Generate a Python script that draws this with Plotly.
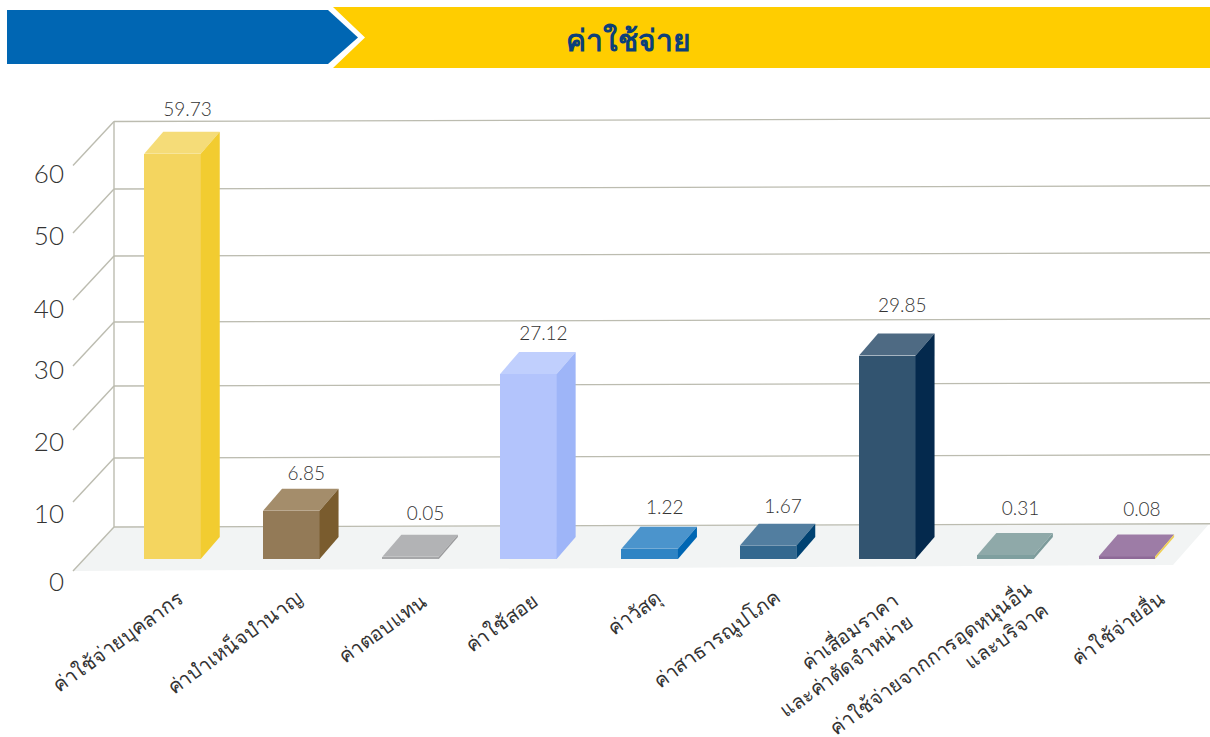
import plotly.graph_objects as go

TITLE = "ค่าใช้จ่าย"
CATEGORIES = [
    "ค่าใช้จ่ายบุคลากร", "ค่าบำเหน็จบำนาญ", "ค่าตอบแทน", "ค่าใช้สอย", "ค่าวัสดุ",
    "ค่าสาธารณูปโภค", "ค่าเสื่อมราคา<br>และค่าตัดจำหน่าย",
    "ค่าใช้จ่ายจากการอุดหนุนอื่น<br>และบริจาค", "ค่าใช้จ่ายอื่น",
]
VALUES = [59.73, 6.85, 0.05, 27.12, 1.22, 1.67, 29.85, 0.31, 0.08]
LABELS = ["59.73", "6.85", "0.05", "27.12", "1.22", "1.67", "29.85", "0.31", "0.08"]
FRONT = ["#f4d55f", "#937a57", "#a6a7a9", "#b3c4fc", "#2f84c4", "#33688f", "#325470", "#7f9f9f", "#8e6a98"]
TOP = ["#f5dc78", "#a48d6b", "#b2b3b5", "#c0cffd", "#4b94cc", "#527ea0", "#4e6a83", "#8fa9a9", "#9d7ca6"]
SIDE = ["#f2cc30", "#7a5c2e", "#9a9a9c", "#9eb5f8", "#0066b3", "#004272", "#04294d", "#7d9b9b", "#f0cf50"]
Y_TICKS = [0, 10, 20, 30, 40, 50, 60]

W, H = 1210, 737
X0_PX, X_STEP = 172.5, 119.3
Y0_PX, Y_SCALE = 557.0, 6.75
BAR_W_PX = 56.5
DEPTH_X, DEPTH_Y = 19, 22
BASE_PX = 559


def dx(px):
    return (px - X0_PX) / X_STEP


def dy(px):
    return (Y0_PX - px) / Y_SCALE


FONT = "Lato, Noto Sans, sans-serif"
THAI = "Noto Sans, sans-serif"
TEXT = "#333333"
GRID = "#bcbcb0"

# pixel-placement of decoration
WALL_PX = [527, 458, 386, 322, 256, 189, 121.5]
TICK_PX = [581.5, 513.5, 441.5, 369.5, 308.5, 236, 174]
LABEL_GAP = [21, 13.5, 19.5, 17, 18, 15, 26, 23, 23.5]
BAR_NUDGE = [0, -0.5, -0.5, -2, 0, -1, -1, -2, 0]
CAT_CENTER = [(117, 641), (234, 642), (382, 628), (501, 622), (634, 612), (716, 638), (838, 655), (938, 668), (1117, 628)]

shapes = []


def poly(pts, fill, line=None):
    path = "M " + " L ".join(f"{dx(x)},{dy(y)}" for x, y in pts) + " Z"
    shapes.append(dict(type="path", path=path, xref="x", yref="y", fillcolor=fill,
                       line=dict(width=0 if line is None else 1, color=line or fill), layer="below"))


def seg(x0, y0, x1, y1, w=1.4):
    shapes.append(dict(type="line", xref="x", yref="y", x0=dx(x0), y0=dy(y0), x1=dx(x1), y1=dy(y1),
                       line=dict(color=GRID, width=w), layer="below"))


# banner
poly([(7, 10), (328, 10), (358, 37.5), (328, 64), (7, 64)], "#0066b3")
poly([(333, 7), (1210, 7), (1210, 68), (333, 68), (365, 37.5)], "#ffcd00")
# floor
poly([(73, 571), (114, 527), (1210, 523), (1173, 565)], "#f2f4f4")
# wall grid
for p in WALL_PX:
    seg(114, p, 1210, p - 3.2)
    seg(114, p, 73, p + 44)
seg(114, WALL_PX[-1], 114, WALL_PX[0])

fig = go.Figure()
# front faces
xs = [i + n / X_STEP for i, n in enumerate(BAR_NUDGE)]
base = dy(BASE_PX)
fig.add_trace(go.Bar(x=xs, y=[v - base for v in VALUES], base=base, width=BAR_W_PX / X_STEP,
                     marker=dict(color=FRONT, line=dict(width=0)), showlegend=False, hoverinfo="skip"))
# top and side faces
hw = BAR_W_PX / X_STEP / 2
ddx, ddy = DEPTH_X / X_STEP, DEPTH_Y / Y_SCALE
for i, (c, v) in enumerate(zip(xs, VALUES)):
    fig.add_trace(go.Scatter(
        x=[c - hw, c + hw, c + hw + ddx, c - hw + ddx, c - hw], y=[v, v, v + ddy, v + ddy, v],
        mode="lines", fill="toself", fillcolor=TOP[i], line=dict(width=0), showlegend=False, hoverinfo="skip"))
    fig.add_trace(go.Scatter(
        x=[c + hw, c + hw + ddx, c + hw + ddx, c + hw, c + hw], y=[base, base + ddy, v + ddy, v, base],
        mode="lines", fill="toself", fillcolor=SIDE[i], line=dict(width=0), showlegend=False, hoverinfo="skip"))
# value labels
fig.add_trace(go.Scatter(
    x=[c + 15 / X_STEP for c in xs],
    y=[v + ddy + g / Y_SCALE for v, g in zip(VALUES, LABEL_GAP)],
    mode="text", text=LABELS, textposition="middle center",
    textfont=dict(family=FONT, size=19, color=TEXT, weight=300), showlegend=False, hoverinfo="skip"))

annotations = [
    dict(x=dx(628), y=dy(39), xref="x", yref="y", text=f"<b>{TITLE}</b>", showarrow=False,
         font=dict(family=THAI, size=30, color="#0b3f7a"))
]
for cat, (cx, cy) in zip(CATEGORIES, CAT_CENTER):
    annotations.append(dict(x=dx(cx), y=dy(cy), xref="x", yref="y", text=cat, showarrow=False, textangle=-36,
                            align="right", font=dict(family=THAI, size=20, color=TEXT, weight=300)))

fig.update_layout(
    width=W, height=H, margin=dict(l=0, r=0, t=0, b=0), paper_bgcolor="white", plot_bgcolor="white",
    shapes=shapes, annotations=annotations, hovermode=False, bargap=0, showlegend=False,
    xaxis=dict(range=[dx(0), dx(W)], visible=False, fixedrange=True),
    yaxis=dict(range=[dy(H), dy(0)], anchor="free", position=64 / W, showgrid=False, zeroline=False, showline=False,
               fixedrange=True, tickmode="array", tickvals=[dy(p) for p in TICK_PX],
               ticktext=[str(t) for t in Y_TICKS], ticks="",
               tickfont=dict(family=FONT, size=26, color=TEXT, weight=300)),
)
fig.write_html("out.html", config=dict(displayModeBar=False),
               post_script="document.body.style.margin='0';document.body.style.overflow='hidden';")
